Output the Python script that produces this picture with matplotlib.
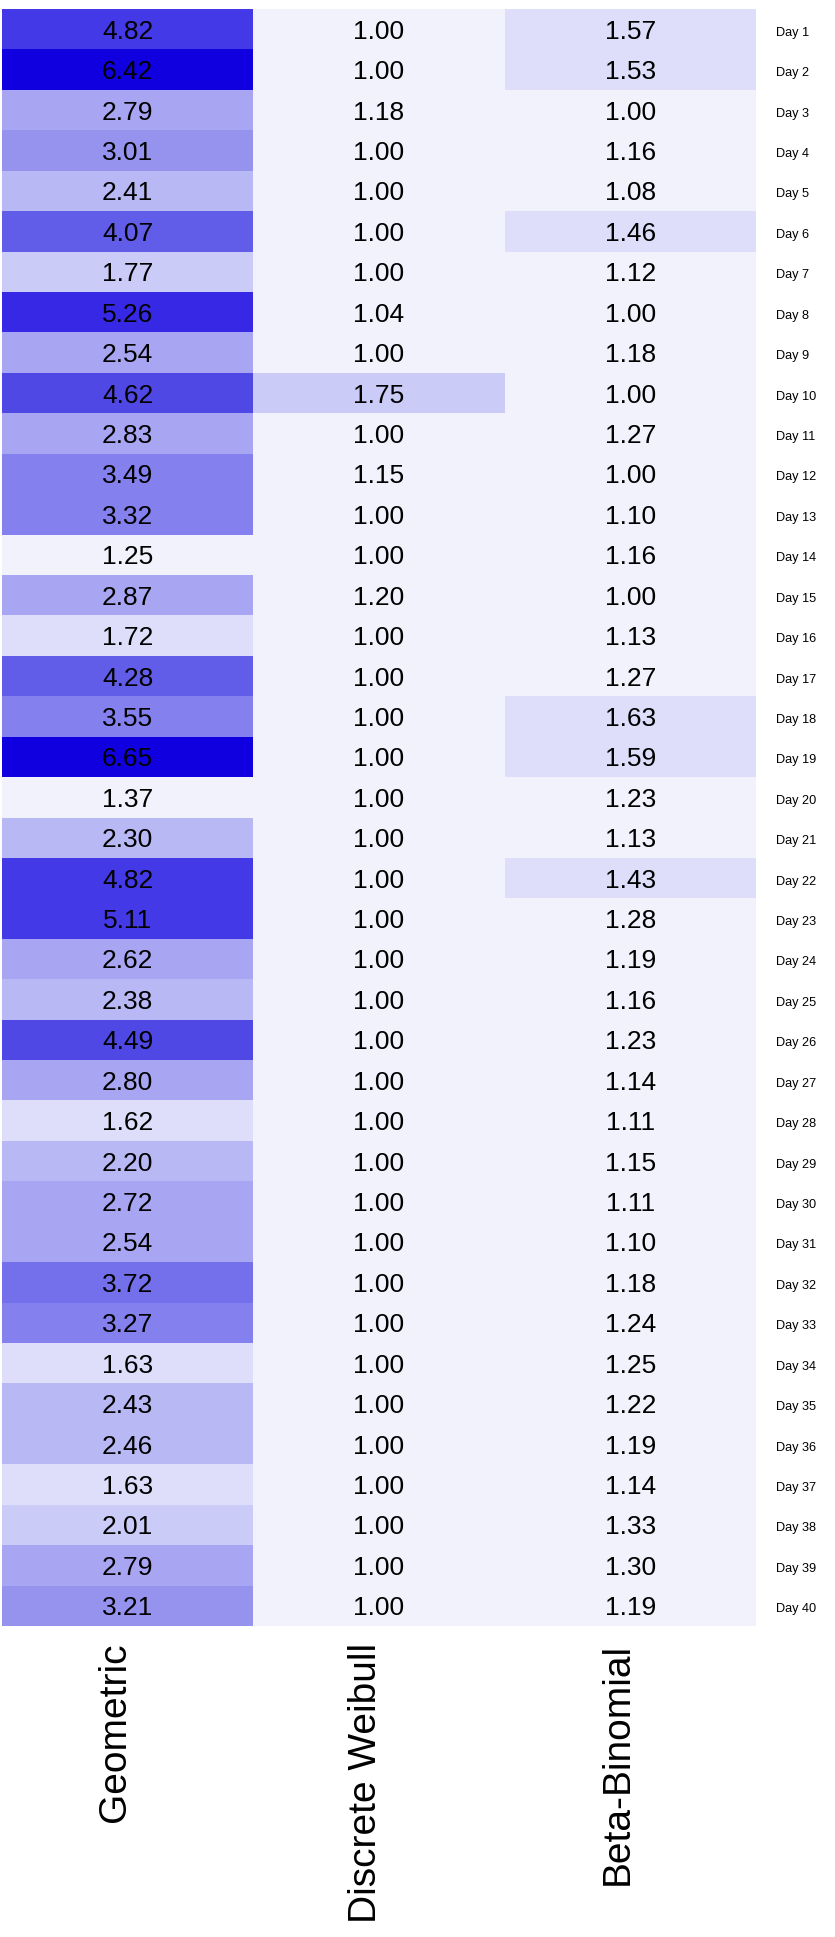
import matplotlib
matplotlib.use("Agg")
import matplotlib.pyplot as plt
import matplotlib.transforms as mtransforms
import numpy as np
from matplotlib.colors import ListedColormap, BoundaryNorm

models = ["Geometric", "Discrete Weibull", "Beta-Binomial"]
days = ["Day %d" % i for i in range(1, 41)]

geometric = [4.82, 6.42, 2.79, 3.01, 2.41, 4.07, 1.77, 5.26, 2.54, 4.62,
             2.83, 3.49, 3.32, 1.25, 2.87, 1.72, 4.28, 3.55, 6.65, 1.37,
             2.30, 4.82, 5.11, 2.62, 2.38, 4.49, 2.80, 1.62, 2.20, 2.72,
             2.54, 3.72, 3.27, 1.63, 2.43, 2.46, 1.63, 2.01, 2.79, 3.21]
weibull = [1.00, 1.00, 1.18, 1.00, 1.00, 1.00, 1.00, 1.04, 1.00, 1.75,
           1.00, 1.15, 1.00, 1.00, 1.20, 1.00, 1.00, 1.00, 1.00, 1.00,
           1.00, 1.00, 1.00, 1.00, 1.00, 1.00, 1.00, 1.00, 1.00, 1.00,
           1.00, 1.00, 1.00, 1.00, 1.00, 1.00, 1.00, 1.00, 1.00, 1.00]
beta_binomial = [1.57, 1.53, 1.00, 1.16, 1.08, 1.46, 1.12, 1.00, 1.18, 1.00,
                 1.27, 1.00, 1.10, 1.16, 1.00, 1.13, 1.27, 1.63, 1.59, 1.23,
                 1.13, 1.43, 1.28, 1.19, 1.16, 1.23, 1.14, 1.11, 1.15, 1.11,
                 1.10, 1.18, 1.24, 1.25, 1.22, 1.19, 1.14, 1.33, 1.30, 1.19]

# binned colour scale, light lavender -> pure blue
bounds = [0.95, 1.40, 1.735, 2.10, 2.50, 2.95, 3.25, 3.65, 4.00, 4.40, 4.70, 5.20, 6.00, 6.80]
colors = ['#F2F2FD', '#DEDEFA', '#CBCBF8', '#B8B8F5', '#A8A6F3', '#9693EF', '#8480EE',
          '#7470EB', '#625DE8', '#5048E4', '#4439E6', '#3628E4', '#1000E0']
cmap = ListedColormap(colors)
norm = BoundaryNorm(bounds, cmap.N)

data = np.column_stack([geometric, weibull, beta_binomial])

W, H = 835, 1937
fig = plt.figure(figsize=(W / 100, H / 100), dpi=100)
ax = fig.add_axes([2 / W, 1 - 1626 / H, 754 / W, 1617 / H])

ax.pcolormesh(np.arange(4), np.arange(41), data, cmap=cmap, norm=norm)
ax.set_xlim(0, 3)
ax.set_ylim(40, 0)

font = "Liberation Sans"
for r in range(data.shape[0]):
    for c in range(data.shape[1]):
        ax.text(c + 0.5, r + 0.5, "%.2f" % data[r, c], ha="center", va="center_baseline",
                fontsize=19, family=font, color="black")

ax.set_xticks(np.arange(3) + 0.5)
ax.set_xticklabels(models, rotation=90, fontsize=28, family=font, va="top", ha="right")
ax.set_yticks(np.arange(40) + 0.5)
ax.set_yticklabels(days, fontsize=9.2, family=font, va="center_baseline")
ax.yaxis.tick_right()
ax.tick_params(axis="both", length=0)
ax.tick_params(axis="y", pad=14.4)
ax.tick_params(axis="x", pad=12)
for s in ax.spines.values():
    s.set_visible(False)

# small nudges so labels sit where the reference has them
shift_x = mtransforms.ScaledTranslation(5 / 100, 0, fig.dpi_scale_trans)
for lab in ax.get_xticklabels():
    lab.set_transform(lab.get_transform() + shift_x)
shift_y = mtransforms.ScaledTranslation(0, -2 / 100, fig.dpi_scale_trans)
for lab in ax.get_yticklabels():
    lab.set_transform(lab.get_transform() + shift_y)

fig.savefig("out.png", dpi=100)
